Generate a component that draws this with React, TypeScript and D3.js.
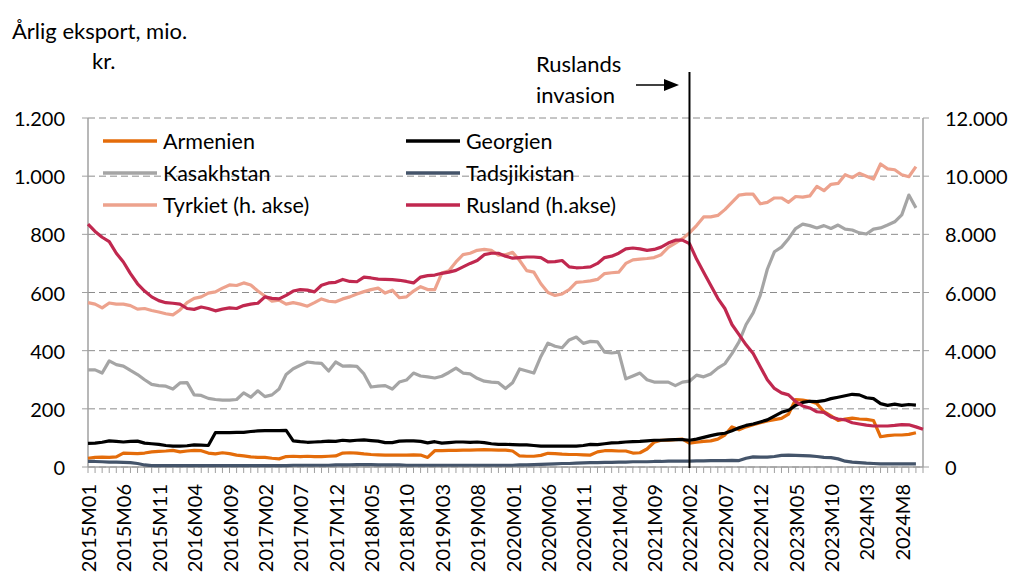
import React from "react";
import * as d3 from "d3";

// monthly categories 2015M01 .. 2024M11
const months: string[] = d3
  .range(2015, 2025)
  .flatMap(y => d3.range(1, 13).map(m => `${y}M${String(m).padStart(2, "0")}`))
  .slice(0, 119);

// labels shown under the axis, every 5th month
const tickLabels = [
  "2015M01", "2015M06", "2015M11", "2016M04", "2016M09", "2017M02", "2017M07", "2017M12",
  "2018M05", "2018M10", "2019M03", "2019M08", "2020M01", "2020M06", "2020M11", "2021M04",
  "2021M09", "2022M02", "2022M07", "2022M12", "2023M05", "2023M10", "2024M3", "2024M8",
];

const leftTicks = [0, 200, 400, 600, 800, 1000, 1200];
const leftTickLabels = ["0", "200", "400", "600", "800", "1.000", "1.200"];
const rightTickLabels = ["0", "2.000", "4.000", "6.000", "8.000", "10.000", "12.000"];

// left axis, mio. kr.
const armenien = [
  30, 33, 34, 33, 35, 48, 47, 46, 48, 52, 54, 55,
  57, 52, 55, 57, 56, 48, 45, 49, 46, 41, 38, 35,
  33, 33, 30, 28, 36, 37, 36, 37, 36, 36, 37, 38,
  48, 49, 48, 45, 43, 42, 41, 41, 41, 41, 42, 41,
  33, 56, 56, 57, 57, 58, 58, 59, 60, 59, 58, 58,
  55, 38, 37, 37, 40, 47, 46, 44, 43, 43, 42, 41,
  52, 56, 56, 55, 55, 48, 49, 62, 85, 92, 92, 94,
  96, 82, 85, 88, 90, 96, 110, 138, 128, 138, 145, 152,
  158, 163, 167, 182, 232, 230, 226, 218, 190, 176, 160, 165,
  168, 165, 164, 160, 104, 108, 110, 110, 112, 118,
];
const georgien = [
  81, 82, 85, 90, 88, 86, 88, 89, 82, 80, 78, 74,
  72, 72, 73, 76, 75, 74, 118, 118, 118, 119, 119, 122,
  124, 125, 125, 125, 126, 90, 87, 85, 86, 87, 89, 88,
  92, 90, 92, 93, 91, 89, 84, 84, 89, 90, 90, 88,
  83, 87, 82, 84, 86, 86, 85, 86, 84, 80, 78, 78,
  77, 76, 76, 74, 72, 72, 72, 72, 72, 72, 74, 78,
  77, 80, 83, 84, 86, 87, 88, 90, 92, 92, 93, 94,
  94, 92, 96, 102, 108, 113, 116, 125, 135, 143, 148, 155,
  162, 175, 188, 195, 212, 222, 226, 225, 228, 235, 240, 245,
  250, 248, 238, 235, 218, 212, 216, 212, 215, 213,
];
const kasakhstan = [
  334, 334, 323, 365, 352, 347, 332, 318, 300, 284, 280, 278,
  268, 289, 290, 248, 246, 236, 232, 230, 230, 232, 255, 240,
  262, 242, 248, 268, 318, 338, 350, 361, 358, 356, 330, 361,
  347, 348, 346, 320, 275, 278, 280, 268, 292, 299, 323, 313,
  310, 306, 312, 325, 340, 323, 320, 305, 295, 292, 290, 270,
  290, 337, 330, 323, 380, 426, 415, 410, 437, 447, 425, 432,
  430, 395, 392, 395, 303, 313, 323, 300, 292, 292, 292, 280,
  292, 295, 316, 310, 320, 340, 355, 390, 430, 490, 530, 590,
  680, 740, 756, 785, 820, 835, 830, 822, 830, 820, 832, 818,
  815, 805, 801, 818, 822, 832, 843, 867, 935, 891,
];
const tadsjikistan = [
  19, 19, 18, 17, 17, 16, 15, 12, 7, 5, 5, 5,
  5, 5, 5, 5, 5, 5, 5, 5, 5, 5, 5, 5,
  5, 5, 5, 5, 5, 6, 6, 6, 6, 6, 6, 7,
  7, 7, 8, 8, 8, 7, 7, 7, 7, 6, 6, 6,
  6, 6, 6, 6, 6, 6, 6, 6, 6, 6, 6, 6,
  6, 7, 7, 8, 9, 10, 11, 12, 12, 13, 14, 15,
  15, 16, 16, 17, 17, 18, 18, 18, 19, 19, 20, 20,
  20, 20, 21, 21, 22, 22, 22, 23, 22, 30, 35, 34,
  34, 36, 40, 41, 40, 39, 38, 36, 33, 32, 28, 20,
  17, 15, 13, 12, 11, 11, 11, 11, 11, 11,
];

// right axis
const tyrkiet = [
  5650, 5600, 5470, 5640, 5600, 5600, 5550, 5430, 5450, 5380, 5330, 5270,
  5230, 5400, 5650, 5800, 5850, 5980, 6020, 6150, 6260, 6240, 6330, 6260,
  6050, 5880, 5700, 5740, 5600, 5650, 5600, 5530, 5650, 5780, 5700, 5680,
  5780, 5850, 5950, 6030, 6100, 6150, 5980, 6080, 5820, 5850, 6050, 6200,
  6100, 6100, 6670, 6750, 7050, 7300, 7350, 7450, 7480, 7450, 7280, 7300,
  7380, 7100, 6750, 6700, 6300, 6000, 5900, 5950, 6100, 6350, 6370, 6400,
  6450, 6650, 6680, 6700, 7000, 7120, 7150, 7170, 7200, 7300, 7550, 7700,
  7850, 8050, 8300, 8600, 8600, 8650, 8850, 9100, 9350, 9380, 9380, 9050,
  9100, 9250, 9250, 9100, 9300, 9280, 9320, 9650, 9500, 9720, 9750, 10050,
  9950, 10100, 10000, 9900, 10420, 10250, 10220, 10050, 9980, 10330,
];
const rusland = [
  8350, 8100, 7900, 7750, 7350, 7050, 6650, 6300, 6050, 5850, 5720, 5650,
  5630, 5600, 5450, 5420, 5500, 5450, 5370, 5430, 5470, 5450, 5550, 5600,
  5630, 5850, 5800, 5780, 5900, 6050, 6100, 6080, 6020, 6250, 6330, 6350,
  6450, 6380, 6370, 6530, 6500, 6460, 6450, 6440, 6420, 6380, 6330, 6530,
  6580, 6600, 6660, 6700, 6760, 6880, 7000, 7100, 7300, 7350, 7350, 7250,
  7180, 7200, 7220, 7220, 7200, 7050, 7060, 7100, 6880, 6850, 6860, 6880,
  7000, 7200, 7250, 7350, 7500, 7530, 7500, 7450, 7480, 7560, 7700, 7800,
  7800, 7680, 7150, 6700, 6250, 5800, 5450, 4900, 4550, 4200, 3900, 3450,
  3000, 2700, 2550, 2480, 2250, 2100, 2030, 1900, 1880, 1720, 1650, 1620,
  1520, 1480, 1440, 1410, 1410, 1410, 1430, 1460, 1450, 1380, 1300,
];

const invasionMonth = "2022M02";

const font = "Lato, 'Open Sans', sans-serif";

export default function App() {
  const width = 1014, height = 574;
  const left = 88, right = 923, top = 118, bottom = 467;

  const x = d3.scalePoint<string>().domain(months).range([left, right]);
  const yL = d3.scaleLinear().domain([0, 1200]).range([bottom, top]);
  const yR = d3.scaleLinear().domain([0, 12000]).range([bottom, top]);

  const lineL = d3.line<number>().x((d, i) => x(months[i])!).y(d => yL(d));
  const lineR = d3.line<number>().x((d, i) => x(months[i])!).y(d => yR(d));

  const series = [
    { name: "Armenien", data: armenien, color: "#E46C0A", axis: "L" },
    { name: "Georgien", data: georgien, color: "#000000", axis: "L" },
    { name: "Kasakhstan", data: kasakhstan, color: "#A5A5A5", axis: "L" },
    { name: "Tadsjikistan", data: tadsjikistan, color: "#44546A", axis: "L" },
    { name: "Tyrkiet (h. akse)", data: tyrkiet, color: "#EDA28D", axis: "R" },
    { name: "Rusland (h.akse)", data: rusland, color: "#C0284F", axis: "R" },
  ];

  const legendCols = [103, 406];
  const legendRows = [141, 173, 205];

  const invX = x(invasionMonth)!;

  return (
    <svg width={width} height={height} style={{ position: "absolute", left: 0, top: 0 }} fontFamily={font}>
      <rect width={width} height={height} fill="#fff" />

      {/* grid */}
      {leftTicks.map(t => (
        <line key={"g" + t} x1={left} x2={right} y1={yL(t)} y2={yL(t)} stroke="#8c8c8c" strokeWidth={1} strokeDasharray="7,4" />
      ))}

      {/* axes */}
      <line x1={left} x2={left} y1={top} y2={bottom} stroke="#a0a0a0" strokeWidth={1.5} />
      <line x1={right} x2={right} y1={top} y2={bottom} stroke="#a0a0a0" strokeWidth={1.5} />
      <line x1={left} x2={right} y1={bottom} y2={bottom} stroke="#a0a0a0" strokeWidth={1.5} />
      {leftTicks.map(t => (
        <g key={"t" + t}>
          <line x1={left - 6} x2={left} y1={yL(t)} y2={yL(t)} stroke="#a0a0a0" />
          <line x1={right} x2={right + 6} y1={yL(t)} y2={yL(t)} stroke="#a0a0a0" />
        </g>
      ))}
      {months.map(m => (
        <line key={"xt" + m} x1={x(m)} x2={x(m)} y1={bottom} y2={bottom + 6} stroke="#a0a0a0" />
      ))}

      {/* tick labels */}
      {leftTickLabels.map((l, i) => (
        <text key={"ll" + l} x={65} y={yL(leftTicks[i])} textAnchor="end" dominantBaseline="central" fontSize={20} fill="#000">{l}</text>
      ))}
      {rightTickLabels.map((l, i) => (
        <text key={"rl" + l} x={945} y={yL(leftTicks[i])} dominantBaseline="central" fontSize={20} fill="#000">{l}</text>
      ))}
      {tickLabels.map((l, i) => (
        <text key={"xl" + l} transform={`translate(${x(months[i * 5])},${bottom + 17}) rotate(-90)`} textAnchor="end" dominantBaseline="central" fontSize={20} fill="#000">{l}</text>
      ))}

      {/* series */}
      {series.map(s => (
        <path key={s.name} d={(s.axis === "L" ? lineL : lineR)(s.data)!} fill="none" stroke={s.color} strokeWidth={3.2} strokeLinejoin="round" />
      ))}

      {/* legend */}
      {series.map((s, i) => {
        const cx = legendCols[i % 2], cy = legendRows[Math.floor(i / 2)];
        return (
          <g key={"lg" + s.name}>
            <line x1={cx} x2={cx + 54} y1={cy} y2={cy} stroke={s.color} strokeWidth={3.5} />
            <text x={cx + 60} y={cy} dominantBaseline="central" fontSize={21.5} fill="#000">{s.name}</text>
          </g>
        );
      })}

      {/* invasion marker */}
      <line x1={invX} x2={invX} y1={72} y2={bottom + 1} stroke="#000" strokeWidth={2} />
      <line x1={636} x2={666} y1={85} y2={85} stroke="#000" strokeWidth={1.5} />
      <path d="M664,79 L679,85 L664,91 Z" fill="#000" />
      <text x={536} y={63} dominantBaseline="central" fontSize={22} fill="#000">Ruslands</text>
      <text x={536} y={94} dominantBaseline="central" fontSize={22} fill="#000">invasion</text>

      {/* axis title */}
      <text x={12} y={30} dominantBaseline="central" fontSize={22} fill="#000">Årlig eksport, mio.</text>
      <text x={92} y={60} dominantBaseline="central" fontSize={22} fill="#000">kr.</text>
    </svg>
  );
}
